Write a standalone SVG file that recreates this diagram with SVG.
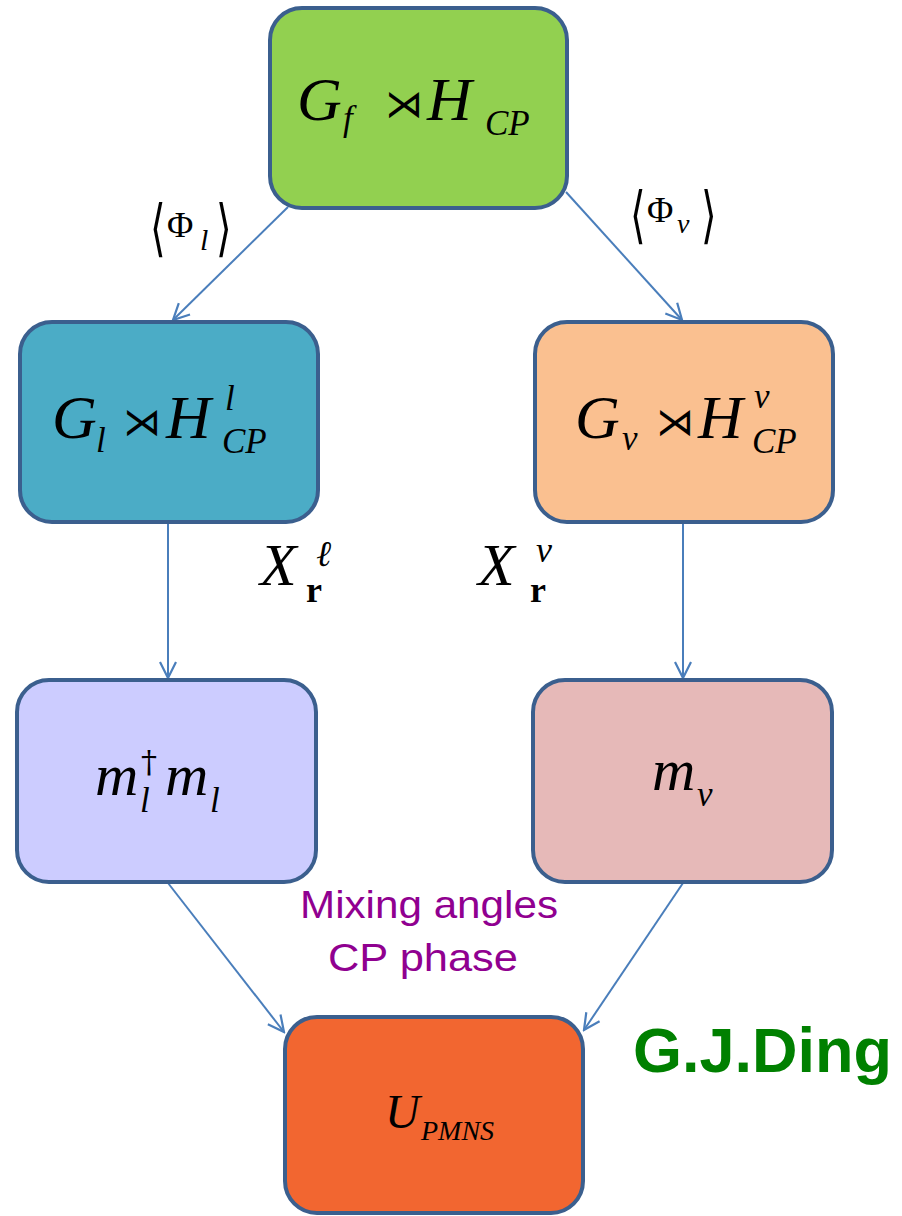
<svg xmlns="http://www.w3.org/2000/svg" width="902" height="1216" viewBox="0 0 902 1216">
<style>
.box{stroke:#3B5F8E;stroke-width:4}
.m{font-family:"Liberation Serif","DejaVu Serif",serif;font-style:italic;fill:#000}
.n{font-family:"Liberation Serif","DejaVu Serif",serif;font-style:normal;fill:#000}
.b{font-family:"Liberation Serif","DejaVu Serif",serif;font-style:normal;font-weight:bold;fill:#000}
.up{font-family:"DejaVu Serif","Liberation Serif",serif;fill:#000}
.br{font-family:"DejaVu Serif","Liberation Serif",serif;fill:#000;font-size:40px}
.sd{font-family:"DejaVu Serif","Liberation Serif",serif;fill:#000;font-size:38px}
.big{font-size:62px}
.sub{font-size:35px}
.edge{stroke:#4A7EBB;stroke-width:2;fill:none;marker-end:url(#ah)}
.lbl{font-family:"Liberation Sans","Noto Sans",sans-serif;fill:#900090;font-size:39px}
</style>
<defs>
<marker id="ah" viewBox="0 0 20 20" refX="18" refY="10" markerWidth="20" markerHeight="20" markerUnits="userSpaceOnUse" orient="auto">
<path d="M2,2 L18,10 L2,18" fill="none" stroke="#4A7EBB" stroke-width="2.2"/>
</marker>
</defs>
<rect width="902" height="1216" fill="#fff"/>
<g id="connectors">
<line class="edge" x1="288" y1="207" x2="173" y2="320"/>
<line class="edge" x1="566" y1="192" x2="682" y2="320"/>
<line class="edge" x1="168" y1="523" x2="168" y2="678"/>
<line class="edge" x1="683" y1="523" x2="683" y2="678"/>
<line class="edge" x1="168" y1="883" x2="284" y2="1032"/>
<line class="edge" x1="683" y1="883" x2="584" y2="1030"/>
</g>
<g id="node-top">
<rect class="box" x="270" y="8" width="297" height="200" rx="32" fill="#92D050"/>
<text class="m big" x="297" y="120">G</text>
<text class="m sub" x="343" y="130">f</text>
<text class="sd" x="385" y="117">⋊</text>
<text class="m big" x="427" y="120">H</text>
<text class="m sub" x="485" y="135">CP</text>
</g>
<g id="node-gl">
<rect class="box" x="20" y="322" width="298" height="200" rx="32" fill="#4BACC6"/>
<text class="m big" x="52" y="438">G</text>
<text class="m sub" x="96" y="452">l</text>
<text class="sd" x="123" y="435">⋊</text>
<text class="m big" x="166" y="438">H</text>
<text class="m sub" x="225" y="410">l</text>
<text class="m sub" x="222" y="453">CP</text>
</g>
<g id="node-gnu">
<rect class="box" x="535" y="322" width="298" height="200" rx="32" fill="#FAC090"/>
<text class="m big" x="575" y="438">G</text>
<text class="m sub" x="622" y="450">ν</text>
<text class="sd" x="656" y="435">⋊</text>
<text class="m big" x="698" y="438">H</text>
<text class="m sub" x="754" y="408">ν</text>
<text class="m sub" x="752" y="453">CP</text>
</g>
<g id="node-mlml">
<rect class="box" x="17" y="680" width="299" height="202" rx="32" fill="#CCCCFF"/>
<text class="m" x="95" y="795" font-size="60">m</text>
<text class="m sub" x="140" y="812">l</text>
<text class="up" x="141" y="773" font-size="32">†</text>
<text class="m" x="165" y="795" font-size="60">m</text>
<text class="m sub" x="210" y="812">l</text>
</g>
<g id="node-mnu">
<rect class="box" x="533" y="680" width="299" height="202" rx="32" fill="#E6B9B8"/>
<text class="m" x="652" y="790" font-size="60">m</text>
<text class="m sub" x="697" y="806">ν</text>
</g>
<g id="node-upmns">
<rect class="box" x="285" y="1017" width="298" height="196" rx="32" fill="#F26630"/>
<text class="m" x="385" y="1128" font-size="48">U</text>
<text class="m" x="421" y="1140" font-size="28">PMNS</text>
</g>
<g id="labels">
<text class="br" transform="translate(150,249) scale(1,1.55)">⟨</text>
<text class="n" x="167" y="237" font-size="36">Φ</text>
<text class="m" x="200" y="250" font-size="30">l</text>
<text class="br" transform="translate(216,249) scale(1,1.55)">⟩</text>
<text class="br" transform="translate(630,236) scale(1,1.55)">⟨</text>
<text class="n" x="647" y="222" font-size="36">Φ</text>
<text class="m" x="677" y="233" font-size="28">ν</text>
<text class="br" transform="translate(701,236) scale(1,1.55)">⟩</text>
<text class="m" x="260" y="585" font-size="60">X</text>
<text class="b" x="306" y="602" font-size="36">r</text>
<text class="m" x="316" y="566" font-size="36">ℓ</text>
<text class="m" x="478" y="585" font-size="60">X</text>
<text class="b" x="530" y="602" font-size="36">r</text>
<text class="m" x="536" y="562" font-size="36">ν</text>
<text class="lbl" x="429" y="918" text-anchor="middle" textLength="258" lengthAdjust="spacingAndGlyphs">Mixing angles</text>
<text class="lbl" x="423" y="971" text-anchor="middle" textLength="190" lengthAdjust="spacingAndGlyphs">CP phase</text>
<text x="633" y="1072" font-family="Liberation Sans,Arial,sans-serif" font-weight="bold" font-size="63" fill="#008000">G.J.Ding</text>
</g>
</svg>
